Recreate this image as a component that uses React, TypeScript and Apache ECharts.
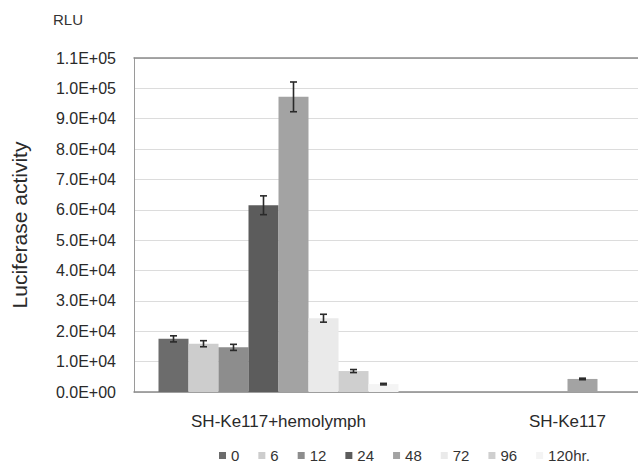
import React, { useEffect, useRef } from "react";
import * as echarts from "echarts";

const categories = ["SH-Ke117+hemolymph", "SH-Ke117"];
const seriesNames = ["0", "6", "12", "24", "48", "72", "96", "120hr."];
const seriesColors = ["#6c6c6c", "#cdcdcd", "#8d8d8d", "#5c5c5c", "#a3a3a3", "#eaeaea", "#cfcfcf", "#f4f4f4"];
// values per series: [hemolymph, no hemolymph]
const values = [
  [17500, 0],
  [15900, 0],
  [14700, 0],
  [61500, 0],
  [97200, 4300],
  [24300, 0],
  [6900, 0],
  [2600, 0],
];
const errors = [
  [1000, 0],
  [1000, 0],
  [1000, 0],
  [3100, 0],
  [4900, 250],
  [1300, 0],
  [500, 0],
  [250, 0],
];
const yTicks = { min: 0, max: 110000, interval: 10000 };

const BAR_W = 30;
const FONT = "Liberation Sans, Arial, sans-serif";

function fmtE(v: number): string {
  if (v === 0) return "0.0E+00";
  const e = Math.floor(Math.log10(v));
  const m = v / Math.pow(10, e);
  return m.toFixed(1) + "E+" + String(e).padStart(2, "0");
}

export default function App() {
  const ref = useRef<HTMLDivElement>(null);
  useEffect(() => {
    if (!ref.current) return;
    const chart = echarts.init(ref.current, undefined, { renderer: "svg" });
    const n = seriesNames.length;
    const errData: any[] = [];
    values.forEach((vals, s) => {
      vals.forEach((v, c) => {
        if (errors[s][c] > 0) errData.push([c, v, errors[s][c], s]);
      });
    });
    const barSeries = seriesNames.map((name, s) => ({
      name,
      type: "bar",
      barWidth: BAR_W,
      barGap: "0%",
      itemStyle: { color: seriesColors[s] },
      data: values[s],
      xAxisIndex: 0,
    }));
    const errSeries = {
      type: "custom",
      xAxisIndex: 0,
      z: 10,
      silent: true,
      data: errData,
      renderItem: (params: any, api: any) => {
        const c = api.value(0);
        const v = api.value(1);
        const e = api.value(2);
        const s = api.value(3);
        const top = api.coord([c, v + e]);
        const bot = api.coord([c, v - e]);
        const x = top[0] + (s - (n - 1) / 2) * BAR_W;
        const hw = 3.5;
        const style = { stroke: "#2a2a2a", lineWidth: 1.6 };
        return {
          type: "group",
          children: [
            { type: "line", shape: { x1: x, y1: top[1], x2: x, y2: bot[1] }, style },
            { type: "line", shape: { x1: x - hw, y1: top[1], x2: x + hw, y2: top[1] }, style },
            { type: "line", shape: { x1: x - hw, y1: bot[1], x2: x + hw, y2: bot[1] }, style },
          ],
        };
      },
    };
    chart.setOption({
      animation: false,
      textStyle: { fontFamily: FONT },
      grid: { left: 134, top: 58, bottom: 75, right: -74, containLabel: false, outerBoundsMode: "none" },
      legend: {
        data: seriesNames,
        left: 214,
        top: 443,
        icon: "rect",
        itemWidth: 7,
        itemHeight: 7,
        itemGap: 19,
        textStyle: { fontSize: 15, color: "#333", fontFamily: FONT },
      },
      graphic: [
        {
          type: "text",
          left: 53,
          top: 12,
          style: { text: "RLU", font: "15px " + FONT, fill: "#333" },
        },
      ],
      xAxis: [
        {
          type: "category",
          data: categories,
          axisLine: { lineStyle: { color: "#8a8a8a", width: 1.5 } },
          axisTick: { show: false },
          axisLabel: { fontSize: 17, color: "#2a2a2a", margin: 21 },
        },
        {
          type: "category",
          position: "top",
          data: categories,
          axisLine: { show: true, lineStyle: { color: "#8a8a8a", width: 1.5 } },
          axisTick: { show: false },
          axisLabel: { show: false },
        },
      ],
      yAxis: {
        type: "value",
        min: yTicks.min,
        max: yTicks.max,
        interval: yTicks.interval,
        name: "Luciferase activity",
        nameLocation: "middle",
        nameRotate: 90,
        nameGap: 104,
        nameTextStyle: { fontSize: 21, color: "#2a2a2a" },
        axisLine: { show: true, lineStyle: { color: "#9a9a9a", width: 1 } },
        axisTick: { show: false },
        axisLabel: { fontSize: 16, color: "#2a2a2a", margin: 18, formatter: (v: number) => fmtE(v) },
        splitLine: { lineStyle: { color: "#dcdcdc", width: 1 } },
      },
      series: [...barSeries, errSeries],
    });
    return () => chart.dispose();
  }, []);
  return (
    <div
      ref={ref}
      style={{ position: "fixed", left: 0, top: 0, width: 638, height: 467, background: "#fff" }}
    />
  );
}
